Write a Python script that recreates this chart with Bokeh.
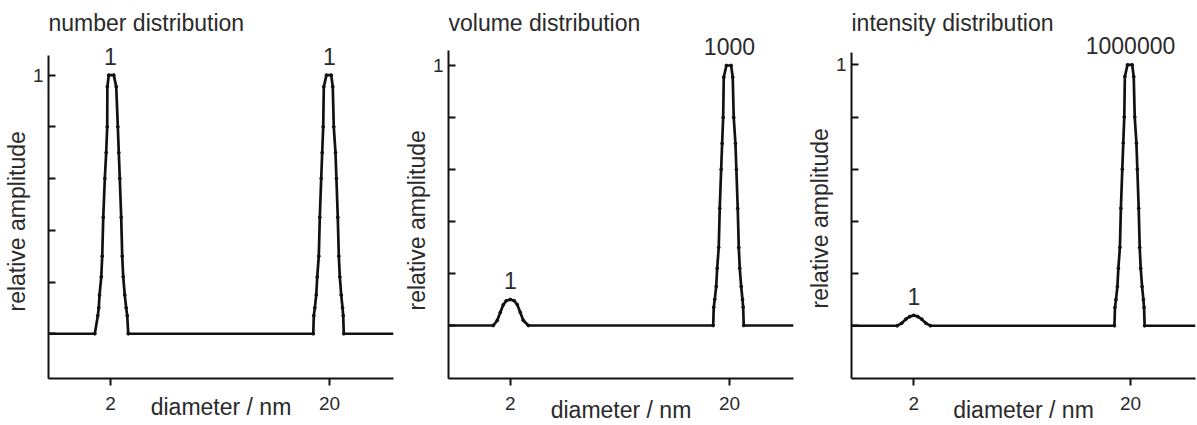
from bokeh.plotting import figure
from bokeh.layouts import row
from bokeh.models import Range1d, FixedTicker, Label, Title, CustomJSTickFormatter
from bokeh.core.properties import value
from bokeh.embed import file_html
from bokeh.resources import INLINE

# ---------------- data ----------------
titles = ["number distribution", "volume distribution", "intensity distribution"]
x_label = "diameter / nm"
y_label = "relative amplitude"
x_ticks = [2, 20]
y_ticks = [0, 0.2, 0.4, 0.6, 0.8, 1.0]

# 2 nm peak of the number distribution
peak2_d = [1.696, 1.750, 1.768, 1.782, 1.815, 1.833, 1.853, 1.884, 1.911, 1.932, 1.935,
           1.964, 2.070, 2.124, 2.160, 2.182, 2.205, 2.238, 2.262, 2.286, 2.323, 2.358,
           2.384, 2.410]
peak2_a = [0, 0.07, 0.10, 0.15, 0.22, 0.30, 0.45, 0.60, 0.70, 0.80, 0.955,
           1.0, 1.0, 0.955, 0.80, 0.70, 0.60, 0.45, 0.30, 0.22, 0.15, 0.10,
           0.07, 0]

# 20 nm peak (same normalised shape in all three panels)
peak20_d = [16.86, 16.96, 17.14, 17.40, 17.58, 17.87, 18.06, 18.33, 18.52, 18.72, 18.84,
            19.37, 20.36, 20.70, 20.92, 21.30, 21.51, 21.82, 22.06, 22.29, 22.62, 22.94,
            23.10, 23.24]
peak20_a = [0, 0.07, 0.10, 0.15, 0.22, 0.30, 0.45, 0.60, 0.70, 0.80, 0.955,
            1.0, 1.0, 0.955, 0.80, 0.70, 0.60, 0.45, 0.30, 0.22, 0.15, 0.10,
            0.07, 0]

# small 2 nm peak of the volume distribution
vol2_d = [1.672, 1.745, 1.800, 1.858, 1.917, 2.000, 2.085, 2.153, 2.222, 2.292, 2.416]
vol2_a = [0, 0.02, 0.05, 0.08, 0.095, 0.10, 0.095, 0.08, 0.05, 0.02, 0]

# tiny 2 nm bump of the intensity distribution
int2_d = [1.676, 1.760, 1.838, 1.916, 2.000, 2.088, 2.176, 2.272, 2.388]
int2_a = [0, 0.01, 0.025, 0.035, 0.04, 0.035, 0.025, 0.01, 0]

peak_labels = [["1", "1"], ["1", "1000"], ["1", "1000000"]]

x_lo = [1.042, 1.045, 1.032]
x_hi = [39.2, 39.2, 39.9]

FONT = "Liberation Sans"
TXT = "#2a2a2a"
INK = "#111111"


def panel(i, d_small, a_small, mb_left, mb_right, mb_bottom,
          y_lo, y_hi, axis_hi, xlab_standoff, ylab_offset):
    xs = [x_lo[i]] + d_small + peak20_d + [x_hi[i]]
    ys = [0] + a_small + peak20_a + [0]
    p = figure(width=399, height=425, x_axis_type="log",
               x_range=Range1d(x_lo[i], x_hi[i]), y_range=Range1d(y_lo, y_hi),
               output_backend="svg", toolbar_location=None, title=None,
               min_border_left=mb_left, min_border_right=mb_right,
               min_border_top=0, min_border_bottom=mb_bottom)
    p.outline_line_color = None
    p.xgrid.visible = False
    p.ygrid.visible = False
    p.background_fill_color = "white"
    p.border_fill_color = "white"

    p.line(xs, ys, line_color=INK, line_width=2.7)
    p.scatter(xs[1:-1], ys[1:-1], size=2.8, color=INK)

    # peak labels
    px = [2, 20]
    py = [max(a_small), max(peak20_a)]
    p.text(px, py, text=peak_labels[i], text_align="center", text_baseline="middle",
           y_offset=-19, text_font=value(FONT), text_font_size="23px", text_color=TXT)

    # panel title (inside the frame, which reaches the top of the canvas)
    p.add_layout(Label(x=x_lo[i], y=y_hi, y_offset=-22, text=titles[i],
                       text_align="left", text_baseline="middle",
                       text_font=FONT, text_font_size="23px", text_color=TXT))

    # y axis title as a side title so it can be placed along the axis
    p.add_layout(Title(text=y_label, align="left", offset=ylab_offset, standoff=0,
                       text_font=FONT, text_font_size="23px", text_font_style="normal",
                       text_color=TXT), "left")

    # x axis
    xa = p.xaxis[0]
    xa.ticker = FixedTicker(ticks=x_ticks, minor_ticks=[])
    xa.formatter = CustomJSTickFormatter(code="return String(Math.round(tick));")
    xa.major_tick_in = 0
    xa.major_tick_out = 7
    xa.minor_tick_in = 0
    xa.minor_tick_out = 0
    xa.axis_line_width = 2
    xa.major_tick_line_width = 2
    xa.axis_line_color = INK
    xa.major_tick_line_color = INK
    xa.major_label_text_font = FONT
    xa.major_label_text_font_size = "19px"
    xa.major_label_text_color = TXT
    xa.major_label_standoff = 11
    xa.axis_label = x_label
    xa.axis_label_text_font = FONT
    xa.axis_label_text_font_size = "23px"
    xa.axis_label_text_font_style = "normal"
    xa.axis_label_text_color = TXT
    xa.axis_label_standoff = xlab_standoff

    # y axis
    ya = p.yaxis[0]
    ya.ticker = FixedTicker(ticks=y_ticks, minor_ticks=[])
    ya.formatter = CustomJSTickFormatter(code="return tick > 0.99 ? '1' : '';")
    ya.bounds = (y_lo, axis_hi)
    ya.major_tick_in = 7
    ya.major_tick_out = 0
    ya.minor_tick_in = 0
    ya.minor_tick_out = 0
    ya.axis_line_width = 2
    ya.major_tick_line_width = 2
    ya.axis_line_color = INK
    ya.major_tick_line_color = INK
    ya.major_label_text_font = FONT
    ya.major_label_text_font_size = "19px"
    ya.major_label_text_color = TXT
    ya.major_label_standoff = 5
    return p


p1 = panel(0, peak2_d, peak2_a, 48, 6, 45,
           -45 / 260, 335 / 260, 1.077, -19, 67)
p2 = panel(1, vol2_d, vol2_a, 49, 5, 47,
           -53 / 260, 325 / 260, 1.058, -16, 68)
p3 = panel(2, int2_d, int2_a, 53, 2, 47,
           -52.7 / 260.7, 325 / 260.7, 1.047, -16, 70)

layout = row(p1, p2, p3)
open("out.html", "w").write(file_html(layout, INLINE))
